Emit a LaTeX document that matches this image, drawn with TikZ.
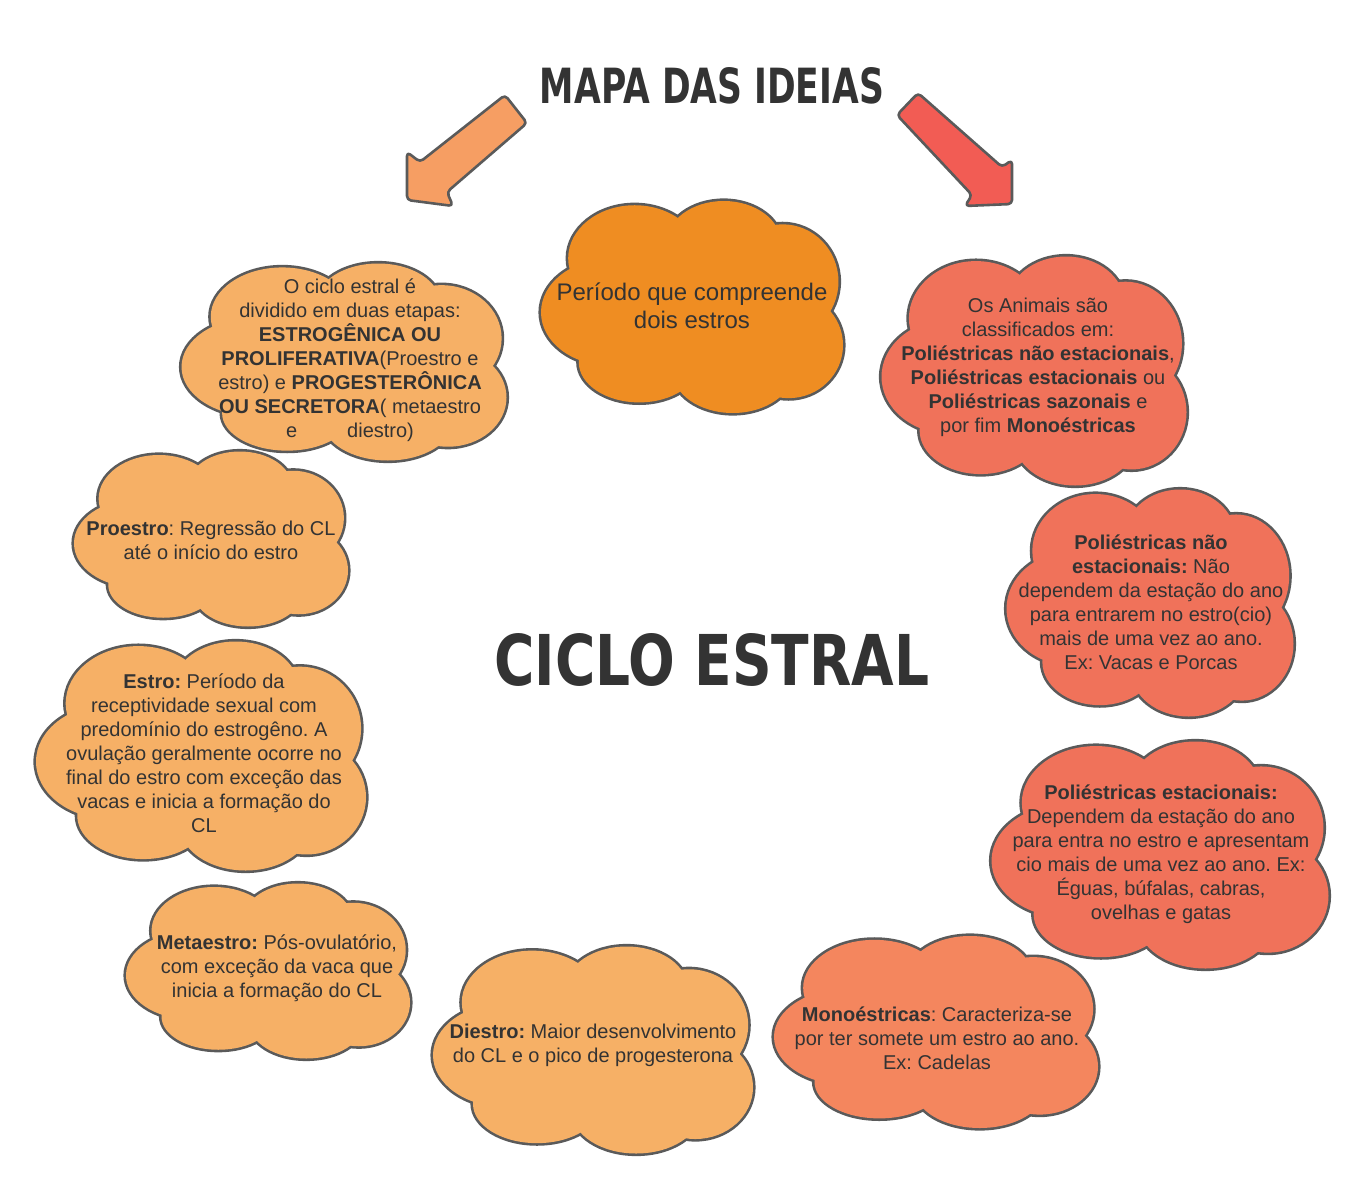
\documentclass[tikz,border=0pt]{standalone}
\usepackage{fontspec}
\setmainfont{Liberation Sans}
\newfontfamily\titlefont{DejaVu Sans}
\usepackage{graphicx}
\usetikzlibrary{positioning}
\frenchspacing

\definecolor{contorno}{HTML}{5A5A5A}
\definecolor{escrita}{HTML}{333333}
\definecolor{laranjaclaro}{HTML}{F6B066}
\definecolor{laranja}{HTML}{EF8D22}
\definecolor{vermelho}{HTML}{F0725A}
\definecolor{salmao}{HTML}{F4865E}
\definecolor{setaesq}{HTML}{F69E63}
\definecolor{setadir}{HTML}{F25C54}

% puffs of one cloud: centre x/centre y/x radius/y radius, in a -1..1 box
\newcommand{\puffs}{-0.55/-0.05/0.45/0.5, -0.38/0.46/0.44/0.5, 0.21/0.6/0.38/0.4, 0.6/0.24/0.37/0.54, 0.64/-0.36/0.36/0.5, 0.27/-0.6/0.4/0.4, -0.35/-0.52/0.4/0.38}
% cloud: centre x, centre y, half width, half height, fill
\newcommand{\nuvem}[5]{%
  \begin{scope}[shift={(#1,#2)}, x=#3pt, y=#4pt]
    \foreach \cx/\cy/\rx/\ry in \puffs
      \draw[draw=contorno, line width=5.2pt] (\cx,\cy) ellipse[x radius=\rx, y radius=\ry];
    \foreach \cx/\cy/\rx/\ry in \puffs
      \fill[#5] (\cx,\cy) ellipse[x radius=\rx, y radius=\ry];
    \fill[#5] (0.05,0.05) ellipse[x radius=0.7, y radius=0.65];
  \end{scope}}

\begin{document}
\begin{tikzpicture}[x=1pt, y=-1pt,
    texto/.style={align=center, text=escrita, font=\fontsize{20}{24}\selectfont, inner sep=0pt},
    seta/.style={draw=contorno, line width=2.6pt, rounded corners=4pt, line join=round}]

    \useasboundingbox (0,0) rectangle (1368,1188);

    % Title and arrows
    \node (mapa) at (712,86) {\resizebox{344pt}{36pt}{\titlefont\bfseries\color{escrita}MAPA DAS IDEIAS}};
    \draw[seta, fill=setaesq] (407,152) -- (420,162) -- (505,95) -- (527,123) -- (447,192) -- (453,206) -- (407,200) -- cycle;
    \draw[seta, fill=setadir] (897,115) -- (918,93) -- (1002,167) -- (1012,160) -- (1012,204) -- (965,206) -- (972,195) -- cycle;

    % Center
    \node (ciclo) at (712,660) {\resizebox{435pt}{52pt}{\titlefont\bfseries\color{escrita}CICLO ESTRAL}};

    % Clouds
    \nuvem{344}{362}{162.5}{98.5}{laranjaclaro}
    \nuvem{692}{307}{151}{106}{laranja}
    \nuvem{1034}{371}{152.5}{114.5}{vermelho}
    \nuvem{211}{539}{137}{87.5}{laranjaclaro}
    \nuvem{1150}{603}{143.5}{113.5}{vermelho}
    \nuvem{201}{756}{165}{114.5}{laranjaclaro}
    \nuvem{1160}{855}{168.5}{113.5}{vermelho}
    \nuvem{268}{971}{142}{87.5}{laranjaclaro}
    \nuvem{593}{1050}{160}{103.5}{laranjaclaro}
    \nuvem{936}{1032}{162}{96}{salmao}

    % Texts
    \node[texto] (etapas) at (350,360) {O ciclo estral é\\dividido em duas etapas:\\\textbf{ESTROGÊNICA OU}\\\textbf{PROLIFERATIVA}(Proestro e\\estro) e \textbf{PROGESTERÔNICA}\\\textbf{OU SECRETORA}( metaestro\\e\hspace{2.5em}diestro)};
    \node[texto, font=\fontsize{24}{28}\selectfont] (periodo) at (692,306) {Período que compreende\\dois estros};
    \node[texto] (animais) at (1038,367) {Os Animais são\\classificados em:\\\textbf{Poliéstricas não estacionais},\\\textbf{Poliéstricas estacionais} ou\\\textbf{Poliéstricas sazonais} e\\por fim \textbf{Monoéstricas}};
    \node[texto] (proestro) at (211,540) {\textbf{Proestro}: Regressão do CL\\até o início do estro};
    \node[texto] (naoestac) at (1151,602) {\textbf{Poliéstricas não}\\\textbf{estacionais:} Não\\dependem da estação do ano\\para entrarem no estro(cio)\\mais de uma vez ao ano.\\Ex: Vacas e Porcas};
    \node[texto] (estro) at (204,753) {\textbf{Estro:} Período da\\receptividade sexual com\\predomínio do estrogêno. A\\ovulação geralmente ocorre no\\final do estro com exceção das\\vacas e inicia a formação do\\CL};
    \node[texto] (estac) at (1161,854) {\textbf{Poliéstricas estacionais:}\\Dependem da estação do ano\\para entra no estro e apresentam\\cio mais de uma vez ao ano. Ex:\\Éguas, búfalas, cabras,\\ovelhas e gatas};
    \node[texto] (metaestro) at (277,968) {\textbf{Metaestro:} Pós-ovulatório,\\com exceção da vaca que\\inicia a formação do CL};
    \node[texto] (diestro) at (593,1045) {\textbf{Diestro:} Maior desenvolvimento\\do CL e o pico de progesterona};
    \node[texto] (mono) at (937,1038) {\textbf{Monoéstricas}: Caracteriza-se\\por ter somete um estro ao ano.\\Ex: Cadelas};
\end{tikzpicture}
\end{document}
